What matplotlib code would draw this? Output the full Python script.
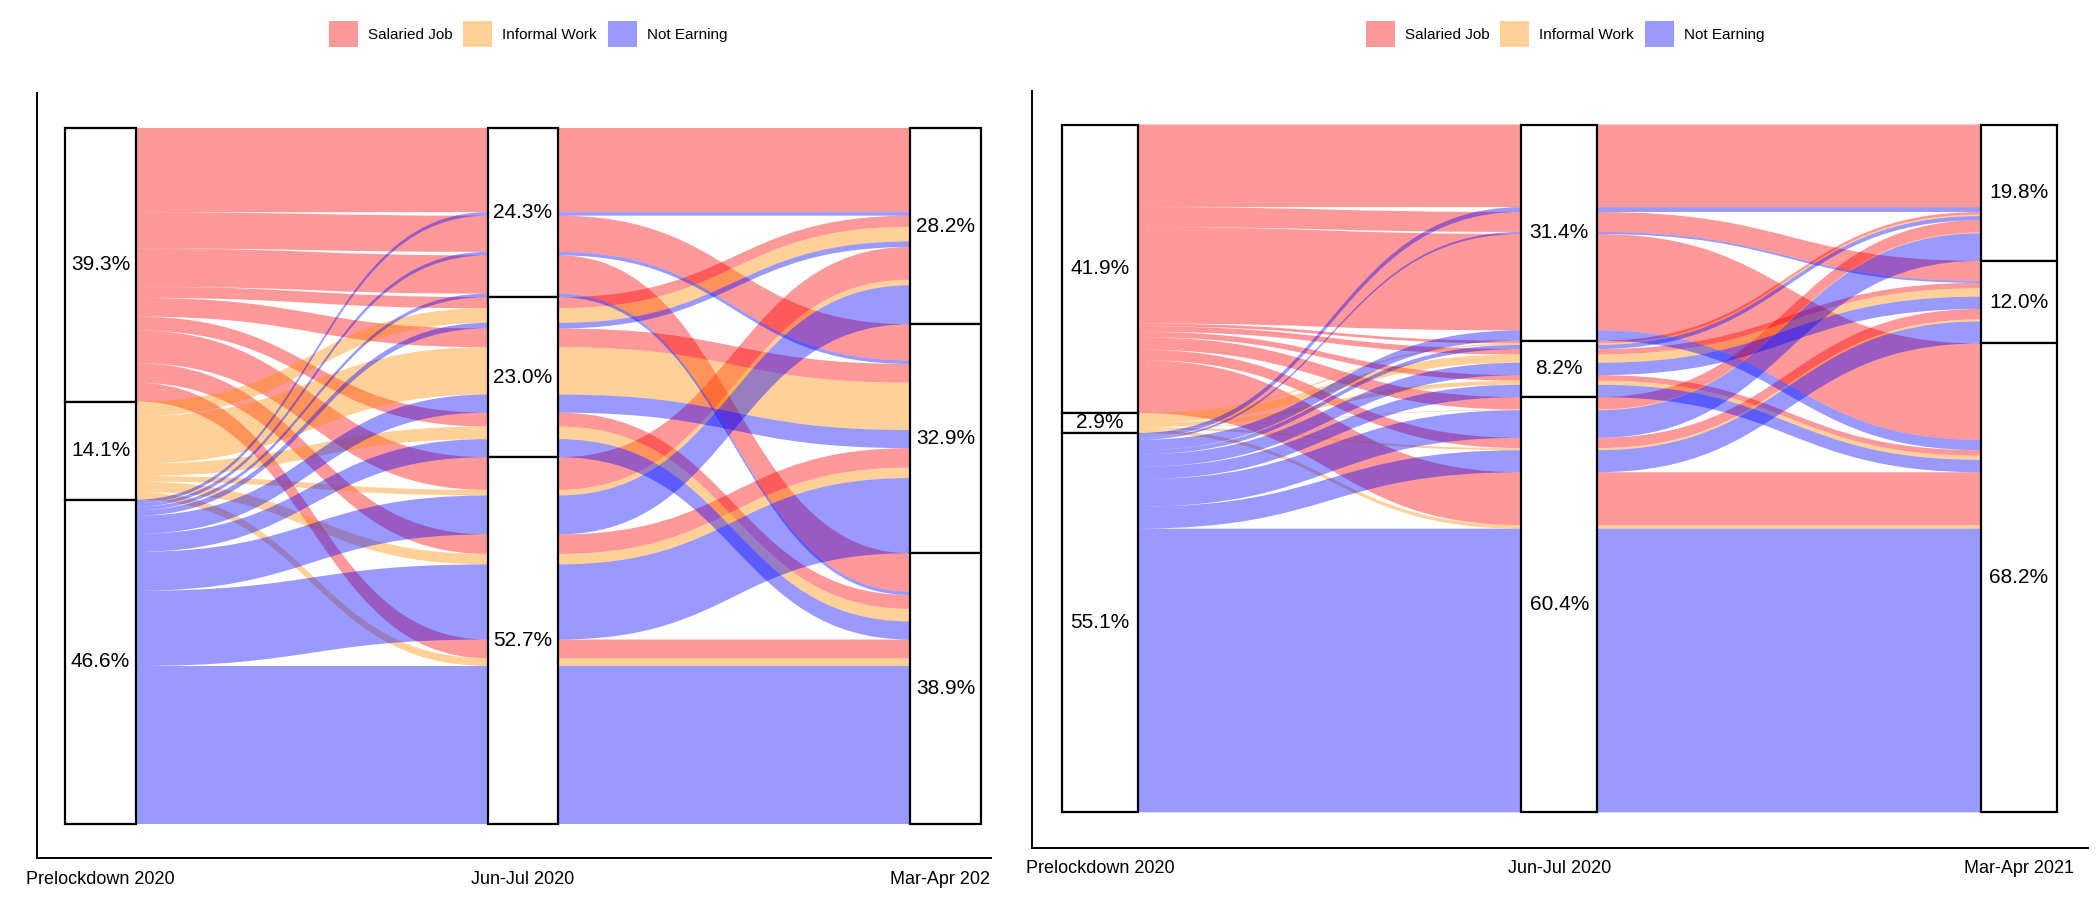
import matplotlib
matplotlib.use("Agg")
import matplotlib.pyplot as plt
from matplotlib import font_manager
from matplotlib.path import Path
from matplotlib.patches import PathPatch, Rectangle, Patch
from matplotlib.transforms import Bbox, TransformedBbox

plt.rcParams['font.family'] = ['Liberation Sans Narrow', 'Liberation Sans', 'DejaVu Sans']
try:
    font_manager.findfont(font_manager.FontProperties(family='Liberation Sans Narrow'),
                          fallback_to_default=False)
    narrow = True
except ValueError:
    narrow = False
# the reference text is condensed; with a regular-width font shrink a bit
if narrow:
    pct_size, axis_size, leg_size = 17, 15, 13
else:
    pct_size, axis_size, leg_size = 15, 13, 11

statuses = ['Salaried Job', 'Informal Work', 'Not Earning']
periods = ['Prelockdown 2020', 'Jun-Jul 2020', 'Mar-Apr 2021']
colors = ['#FF0000', '#FF8C00', '#0000FF']

# path letters = status at (prelockdown, jun-jul, mar-apr); S / I / N
left_flows = ['SSS', 'SSI', 'SSN', 'SIS', 'SII', 'SIN', 'SNS', 'SNI', 'SNN',
              'IIS', 'III', 'IIN', 'INS', 'INI', 'INN',
              'NSS', 'NSI', 'NSN', 'NIS', 'NII', 'NIN', 'NNS', 'NNI', 'NNN']
left_share = [12.1, 5.2, 5.5, 1.6, 2.7, 2.0, 4.7, 2.8, 2.7,
              2.1, 6.8, 1.8, 0.8, 1.5, 1.1,
              0.5, 0.5, 0.5, 0.8, 2.6, 2.6, 5.6, 10.8, 22.7]
left_strata = [[39.3, 14.1, 46.6], [24.3, 23.0, 52.7], [28.2, 32.9, 38.9]]

right_flows = ['SSS', 'SSI', 'SSN', 'SIS', 'SII', 'SIN', 'SNS', 'SNI', 'SNN',
               'IIS', 'III', 'IIN', 'INS', 'INI', 'INN',
               'NSS', 'NSI', 'NSN', 'NIS', 'NII', 'NIN', 'NNS', 'NNI', 'NNN']
right_share = [12.0, 2.9, 14.0, 0.4, 0.8, 0.8, 1.8, 1.5, 7.7,
               0.2, 1.2, 0.6, 0.1, 0.3, 0.5,
               0.7, 0.3, 1.5, 0.6, 1.8, 1.8, 4.0, 3.2, 41.2]
right_strata = [[41.9, 2.9, 55.1], [31.4, 8.2, 60.4], [19.8, 12.0, 68.2]]

W, H = 2099, 905
# lodes ordered inside each stratum like ggalluvial's zigzag guidance
order_keys = [(0, 1, 2), (1, 2, 0), (2, 1, 0)]


def lode_tops(flows, share):
    idx = [['SIN'.index(ch) for ch in f] for f in flows]
    tops = [[0.0] * len(flows) for _ in range(3)]
    for a, key in enumerate(order_keys):
        order = sorted(range(len(flows)), key=lambda j: tuple(idx[j][p] for p in key))
        y = 0.0
        for j in order:
            tops[a][j] = y
            y += share[j]
    return idx, tops


def ribbon(xc, tops, h, w, k=0.5):
    pts = [(xc[0] + w / 2, tops[0])]
    codes = [Path.MOVETO]
    n = len(xc)
    for i in range(n - 1):
        x0, x1 = xc[i] + w / 2, xc[i + 1] - w / 2
        dx = x1 - x0
        if i > 0:
            pts.append((x0, tops[i]))
            codes.append(Path.LINETO)
        pts += [(x0 + k * dx, tops[i]), (x1 - k * dx, tops[i + 1]), (x1, tops[i + 1])]
        codes += [Path.CURVE4] * 3
    bots = [t + h for t in tops]
    pts.append((xc[-1] - w / 2, bots[-1]))
    codes.append(Path.LINETO)
    for i in range(n - 1, 0, -1):
        x0, x1 = xc[i] - w / 2, xc[i - 1] + w / 2
        dx = x0 - x1
        if i < n - 1:
            pts.append((x0, bots[i]))
            codes.append(Path.LINETO)
        pts += [(x0 - k * dx, bots[i]), (x1 + k * dx, bots[i - 1]), (x1, bots[i - 1])]
        codes += [Path.CURVE4] * 3
    pts.append(pts[0])
    codes.append(Path.CLOSEPOLY)
    return Path(pts, codes)


def draw_panel(ax, flows, share, strata, w, label_y, clip_right=None):
    idx, tops = lode_tops(flows, share)
    xc = [1, 2, 3]
    for j, f in enumerate(flows):
        p = ribbon(xc, [tops[a][j] for a in range(3)], share[j], w)
        ax.add_patch(PathPatch(p, facecolor=colors[idx[j][0]], alpha=0.4,
                               edgecolor='none', zorder=2))
    for a in range(3):
        for s in range(3):
            members = [j for j in range(len(flows)) if idx[j][a] == s]
            top = min(tops[a][j] for j in members)
            hgt = sum(share[j] for j in members)
            ax.add_patch(Rectangle((xc[a] - w / 2, top), w, hgt, facecolor='white',
                                   edgecolor='black', lw=1.6, zorder=3))
            ax.text(xc[a], top + hgt / 2, f"{strata[a][s]:.1f}%", ha='center',
                    va='center', fontsize=pct_size, zorder=4)
    for a in range(3):
        t = ax.text(xc[a], label_y, periods[a], transform=ax.get_xaxis_transform(),
                    ha='center', va='center', fontsize=axis_size)
        if clip_right is not None:
            t.set_clip_path(None)
            t.set_clip_on(True)
            t.set_clip_box(TransformedBbox(Bbox.from_extents(0, 0, clip_right / W, 1),
                                           ax.figure.transFigure))
    ax.set_xticks([])
    ax.set_yticks([])
    for side in ['top', 'right']:
        ax.spines[side].set_visible(False)
    for side in ['left', 'bottom']:
        ax.spines[side].set_linewidth(1.4)


fig = plt.figure(figsize=(W / 100, H / 100), dpi=100)

ax1 = fig.add_axes([37 / W, (H - 858) / H, (991 - 37) / W, (858 - 93) / H])
ax1.set_xlim(0.8497, 3.1077)
ax1.set_ylim(104.89, -5.03)
draw_panel(ax1, left_flows, left_share, left_strata, 0.168, -0.028, clip_right=990)

ax2 = fig.add_axes([1032 / W, (H - 848) / H, (2088 - 1032) / W, (848 - 91) / H])
ax2.set_xlim(0.852, 3.151)
ax2.set_ylim(105.08, -4.87)
draw_panel(ax2, right_flows, right_share, right_strata, 0.166, -0.027)

key_px = leg_size * 100 / 72
handles = [Patch(facecolor=c, alpha=0.4, edgecolor='none') for c in colors]
for cx in [528, 1565]:
    fig.legend(handles, statuses, loc='center', bbox_to_anchor=(cx / W, 1 - 34 / H),
               ncol=3, frameon=False, fontsize=leg_size, handlelength=29 / key_px,
               handleheight=34 / key_px, handletextpad=10 / key_px,
               columnspacing=11 / key_px)

fig.savefig('out.png', dpi=100)
